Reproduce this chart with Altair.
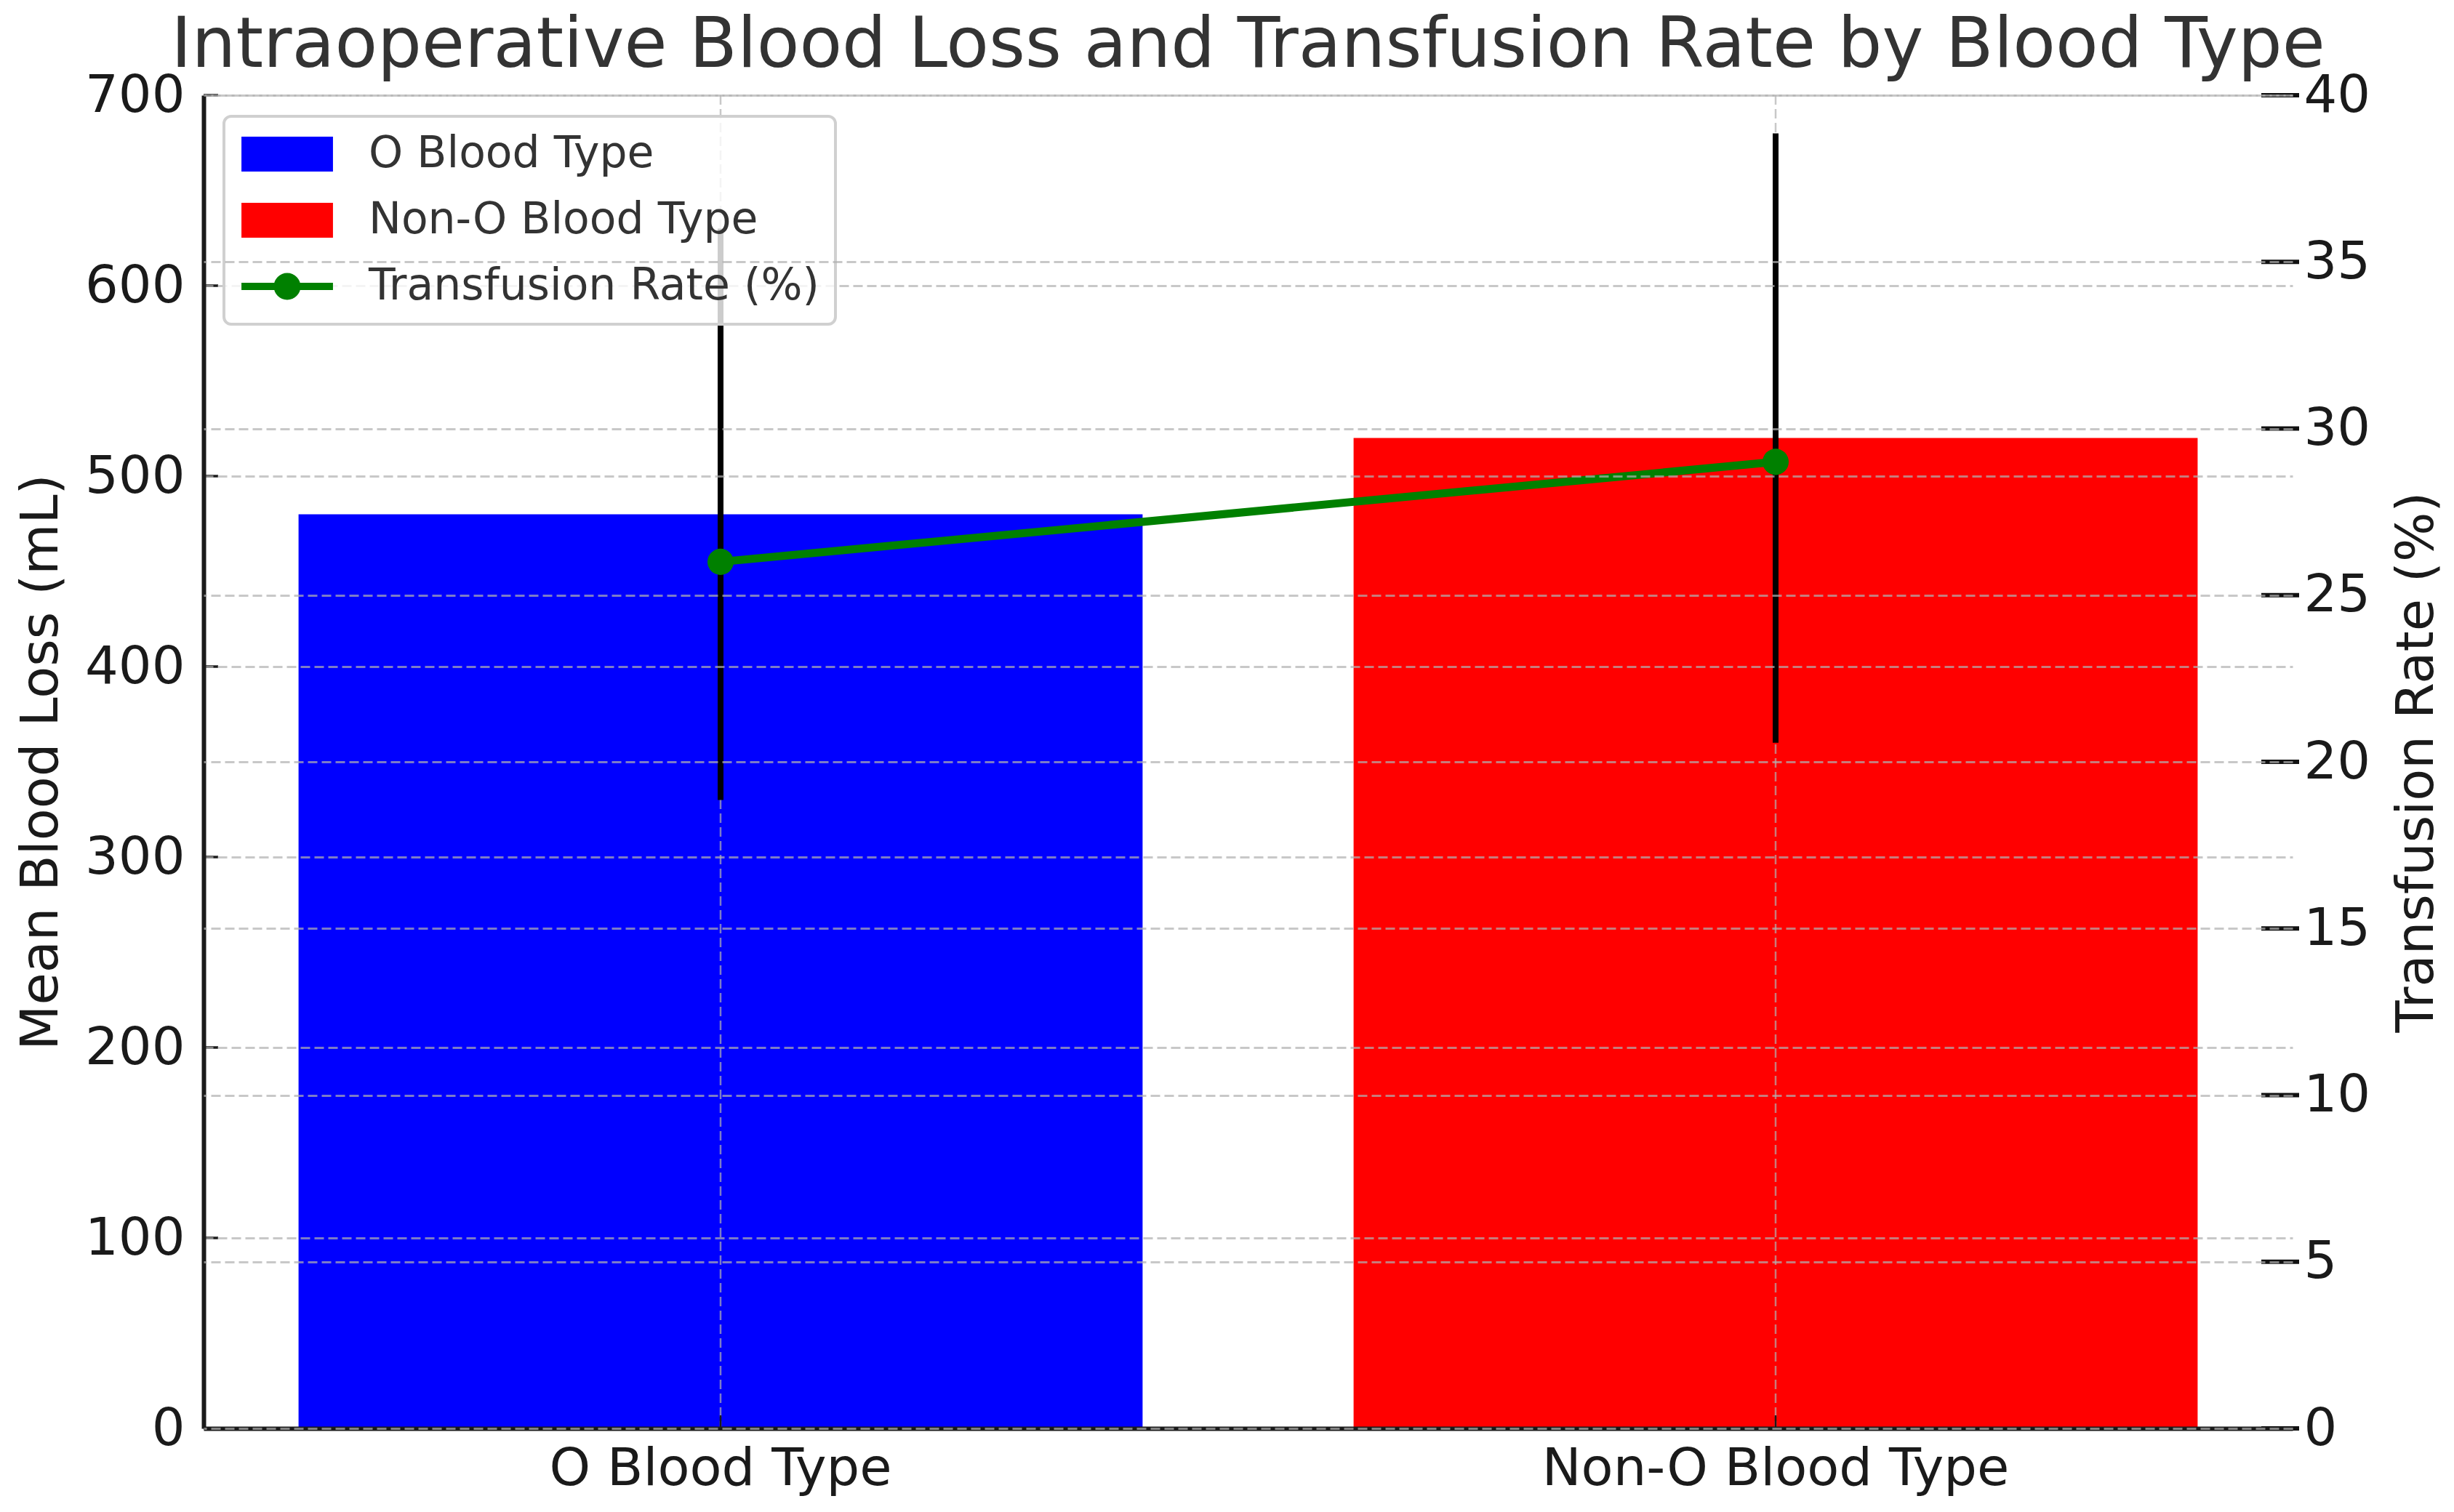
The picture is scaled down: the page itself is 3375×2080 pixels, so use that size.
import altair as alt
import pandas as pd

# ---- data ----
categories = ["O Blood Type", "Non-O Blood Type"]
mean_blood_loss = [480, 520]          # mL
blood_loss_sd = [150, 160]            # error bar half-length, mL
transfusion_rate = [26, 29]           # %
left_ticks = [0, 100, 200, 300, 400, 500, 600, 700]
right_ticks = [0, 5, 10, 15, 20, 25, 30, 35, 40]
rate_label = "Transfusion Rate (%)"
series_names = categories + [rate_label]
series_colors = ["#0000ff", "#ff0000", "#008000"]

df = pd.DataFrame({
    "category": categories,
    "loss": mean_blood_loss,
    "sd": blood_loss_sd,
    "rate": transfusion_rate,
})
legend_df = pd.DataFrame({"series": series_names})
left_tick_df = pd.DataFrame({"v": left_ticks})
right_tick_df = pd.DataFrame({"v": right_ticks})

W, H = 2873, 1834
FONT = "DejaVu Sans"
TXT = "#1a1a1a"
FS = 72
GRID_COLOR = "#b0b0b0"
GRID = dict(grid=True, gridColor=GRID_COLOR, gridOpacity=0.7, gridDash=[13, 6])
LEGEND_FILL = "rgba(255,255,255,0.8)"

x_enc = alt.X(
    "category:N", sort=categories,
    scale=alt.Scale(paddingInner=0.2, paddingOuter=0.09),
    axis=alt.Axis(
        title=None, labelAngle=0, labelFont=FONT, labelFontSize=FS, labelColor=TXT,
        labelPadding=20, labelLimit=3000, domainColor=TXT, domainWidth=6, ticks=False,
        grid=False, zindex=1,
    ),
)

left_scale = alt.Scale(domain=[0, 700], nice=False)
right_scale = alt.Scale(domain=[0, 40], nice=False)

left_axis = alt.Axis(
    values=left_ticks, title="Mean Blood Loss (mL)", titleFont=FONT, titleFontSize=FS,
    titleFontWeight="normal", titleColor=TXT, titlePadding=23,
    labelFont=FONT, labelFontSize=FS, labelColor=TXT, labelPadding=26, labelLimit=3000,
    domainColor=TXT, domainWidth=6, ticks=False,
    gridWidth=3, zindex=1, **GRID,
)

right_axis = alt.Axis(
    orient="right", values=right_ticks, title=rate_label, titleFont=FONT, titleFontSize=FS,
    titleFontWeight="normal", titleColor=TXT, titlePadding=29, titleAngle=270,
    titleBaseline="top",
    labelFont=FONT, labelFontSize=FS, labelColor=TXT, labelPadding=15, labelLimit=3000,
    domain=False, ticks=False,
    gridWidth=3, zindex=3, **GRID,
)

RECT_PATH = "M-3.07,-1.17H3.07V1.17H-3.07Z"
LINE_PATH = ("M-3.07,-0.24H3.07V0.24H-3.07Z "
             "M0.9,0A0.9,0.9 0 1 1 -0.9,0A0.9,0.9 0 1 1 0.9,0Z")

color_scale = alt.Scale(domain=series_names, range=series_colors)
shape_scale = alt.Scale(domain=series_names, range=[RECT_PATH, RECT_PATH, LINE_PATH])


def make_legend():
    return alt.Legend(
        orient="none", legendX=28, legendY=29, padding=22,
        fillColor=LEGEND_FILL, strokeColor="#d0d0d0",
        cornerRadius=10, labelFont=FONT, labelFontSize=60, labelColor="#333333",
        labelLimit=3000,
        symbolSize=1681, symbolStrokeWidth=0, symbolOpacity=1, symbolOffset=35,
        labelOffset=82, rowPadding=31, zindex=2,
    )


left_y = lambda field: alt.Y(field, scale=left_scale, axis=left_axis)
right_y = lambda field: alt.Y(field, scale=right_scale, axis=right_axis)

bars = alt.Chart(df).mark_bar().encode(
    x=x_enc,
    y=left_y("loss:Q"),
    color=alt.Color("category:N", title=None, scale=color_scale, legend=make_legend()),
)

# vertical dashed grid at the category centres (drawn below the error bars)
vgrid = alt.Chart(df).mark_rule(
    color=GRID_COLOR, opacity=0.7, strokeWidth=2.5, strokeDash=[13, 6]
).encode(x=x_enc)

errs = alt.Chart(df).transform_calculate(
    lo="datum.loss - datum.sd", hi="datum.loss + datum.sd"
).mark_rule(color="black", strokeWidth=8).encode(
    x=x_enc,
    y=left_y("lo:Q"),
    y2="hi:Q",
)

# legend carrier: invisible points, one per series, colour + shape merged legend
legend_carrier = alt.Chart(legend_df).mark_point(filled=True, opacity=0).encode(
    color=alt.Color("series:N", title=None, scale=color_scale, legend=make_legend()),
    shape=alt.Shape("series:N", title=None, scale=shape_scale, legend=make_legend()),
)

# inward tick marks (left axis, right axis, bottom axis)
left_tick_marks = alt.Chart(left_tick_df).mark_rule(color=TXT, strokeWidth=3.5).encode(
    y=left_y("v:Q"),
    x=alt.value(0), x2=alt.value(20),
)
bottom_tick_marks = alt.Chart(df).mark_rule(color=TXT, strokeWidth=2.5).encode(
    x=x_enc, y=alt.value(H - 18), y2=alt.value(H),
)

line = alt.Chart(df).mark_line(color="#008000", strokeWidth=11).encode(
    x=x_enc,
    y=right_y("rate:Q"),
)

pts = alt.Chart(df).mark_point(filled=True, color="#008000", size=1300, opacity=1).encode(
    x=x_enc,
    y=right_y("rate:Q"),
)

right_tick_marks = alt.Chart(right_tick_df).mark_rule(color="#111111", strokeWidth=6).encode(
    y=right_y("v:Q"),
    x=alt.value(W - 43), x2=alt.value(W + 9),
)

chart = alt.layer(
    alt.layer(bars, vgrid, errs, left_tick_marks, bottom_tick_marks, legend_carrier),
    alt.layer(line, pts, right_tick_marks),
).resolve_scale(y="independent").properties(
    width=W, height=H,
    autosize=alt.AutoSizeParams(type="none"),
    padding={"left": 272, "top": 123, "right": 214, "bottom": 107},
    title=alt.TitleParams(
        text="Intraoperative Blood Loss and Transfusion Rate by Blood Type",
        font=FONT, fontSize=96, fontWeight="normal", color="#333333",
        anchor="middle", frame="group", baseline="alphabetic", offset=17, dy=110,
    ),
).configure(background="white").configure_view(
    stroke="transparent", strokeWidth=0
).configure_legend(strokeWidth=4, zindex=2, fillColor=LEGEND_FILL)

chart.save("out.html", embed_options={"renderer": "svg", "actions": False})
